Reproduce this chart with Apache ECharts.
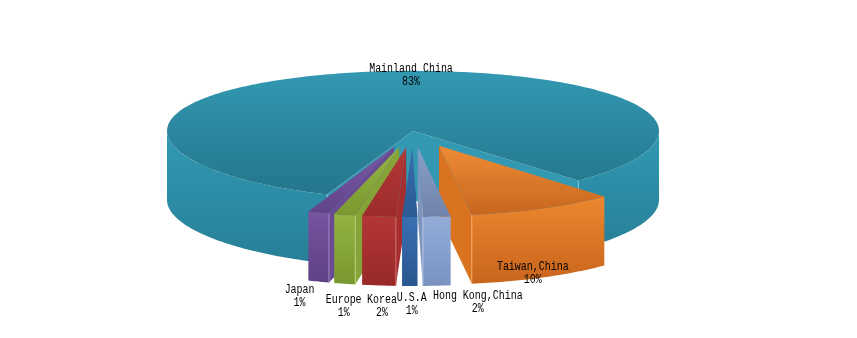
<!DOCTYPE html>
<html><head><meta charset="utf-8">
<script src="https://cdn.jsdelivr.net/npm/echarts@6/dist/echarts.min.js"></script>
<style>html,body{margin:0;padding:0;background:#fff}#c{width:857px;height:338px}</style>
</head><body><div id="c"></div>
<script>
// ---- data ----
const categories = ['Mainland China', 'Taiwan,China', 'Hong Kong,China', 'U.S.A', 'Korea', 'Europe', 'Japan'];
const values = [82.6, 9.6, 1.8, 1.0, 2.2, 1.4, 1.4];
const exploded = [false, true, true, true, true, true, true];

// ---- layout / style ----
const CX = 413, CY = 131, RX = 246, RY = 64, H = 69, PERSP = 0.06, EXPLODE = 0.25, START = 339.6;
const palette = [
  { top: ['#3398b2', '#24768b'], wall: ['#3199b3', '#287f97'], cut: '#3399b2', edge: '#7cc3d6' },
  { top: ['#ee8c36', '#c8661e'], wall: ['#ec872f', '#c9651c'], cut: '#d9731f', edge: '#f3a866' },
  { top: ['#8aa0c8', '#6f83aa'], wall: ['#93acd8', '#7a92c0'], cut: '#7f95be', edge: '#b5c6e6' },
  { top: ['#3a6db0', '#2b5a94'], wall: ['#3a6fb2', '#2a5690'], cut: '#30609c', edge: '#6f98cf' },
  { top: ['#b53838', '#9c2b2b'], wall: ['#b43636', '#982929'], cut: '#a52f2f', edge: '#d36a6a' },
  { top: ['#93b445', '#7a9a30'], wall: ['#92b342', '#789830'], cut: '#84a438', edge: '#b8d27a' },
  { top: ['#7b58a5', '#62448a'], wall: ['#77549f', '#5e4184'], cut: '#6a4a92', edge: '#a487c6' }
];
const labelOffset = [[-2, 4], [-10, -4], [41, 17], [2, 18], [3, 21], [-1, 23], [-19, 15]];

const total = values.reduce((a, b) => a + b, 0);
const cumBefore = values.map((v, i) => values.slice(0, i).reduce((a, b) => a + b, 0));
const rad = d => d * Math.PI / 180;
const sliceAngles = values.map((v, i) => {
  const hi = START - cumBefore[i] / total * 360;
  const lo = hi - v / total * 360;
  return { lo, hi, mid: (lo + hi) / 2 };
});
const order = values.map((v, i) => i).sort((a, b) => {
  if (exploded[a] !== exploded[b]) return exploded[a] ? 1 : -1;
  return Math.cos(rad(sliceAngles[a].mid)) - Math.cos(rad(sliceAngles[b].mid));
});
const rank = [];
order.forEach((idx, r) => { rank[idx] = r; });

function P(X, Y, bottom) {
  const yy = Y * (1 + PERSP * Y);
  return [CX + RX * X, CY + RY * yy + (bottom ? H : 0)];
}
function grad(c) {
  return new echarts.graphic.LinearGradient(0, 0, 0, 1, [{ offset: 0, color: c[0] }, { offset: 1, color: c[1] }]);
}

function renderItem(params, api) {
  const i = params.dataIndex;
  const v = api.value(0);
  const { lo, hi, mid } = sliceAngles[i];
  const ex = exploded[i] ? EXPLODE : 0;
  const ox = ex * Math.sin(rad(mid)), oy = ex * Math.cos(rad(mid));
  const col = palette[i];
  const base = 10 + rank[i] * 5;
  const arc = (a, b, bottom) => {
    const n = Math.max(2, Math.ceil(Math.abs(b - a)));
    const pts = [];
    for (let k = 0; k <= n; k++) {
      const t = rad(a + (b - a) * k / n);
      pts.push(P(ox + Math.sin(t), oy + Math.cos(t), bottom));
    }
    return pts;
  };
  const children = [];
  const edgePt = (t, bottom) => P(ox + Math.sin(rad(t)), oy + Math.cos(rad(t)), bottom);
  const cutFace = t => [P(ox, oy, false), edgePt(t, false), edgePt(t, true), P(ox, oy, true)];
  const addCut = t => {
    children.push({ type: 'polygon', shape: { points: cutFace(t) }, style: { fill: col.cut }, z2: base });
    const a = edgePt(t, false), b = edgePt(t, true);
    children.push({ type: 'line', shape: { x1: a[0], y1: a[1], x2: b[0], y2: b[1] },
      style: { stroke: col.edge, lineWidth: 1 }, z2: base + 1.5 });
  };
  if (Math.sin(rad(hi)) < 0) addCut(hi);
  if (Math.sin(rad(lo)) > 0) addCut(lo);
  const bps = [lo];
  for (let k = -4; k <= 4; k++) { const b = 90 + 180 * k; if (b > lo && b < hi) bps.push(b); }
  bps.push(hi);
  for (let k = 0; k < bps.length - 1; k++) {
    const p = bps[k], q = bps[k + 1];
    if (Math.cos(rad((p + q) / 2)) > 0) {
      const pts = arc(p, q, false).concat(arc(q, p, true));
      children.push({ type: 'polygon', shape: { points: pts }, style: { fill: grad(col.wall) }, z2: base + 1 });
    }
  }
  const topPts = [P(ox, oy, false)].concat(arc(lo, hi, false));
  children.push({ type: 'polygon', shape: { points: topPts }, style: { fill: grad(col.top) }, z2: base + 2 });
  let anchor;
  if (!exploded[i]) anchor = P(0, -1, false);
  else anchor = P(ox + Math.sin(rad(mid)), oy + Math.cos(rad(mid)), true);
  const pct = Math.round(v / total * 100) + '%';
  children.push({
    type: 'text', x: anchor[0] + labelOffset[i][0], y: anchor[1] + labelOffset[i][1], scaleX: 0.83,
    style: { text: categories[i] + '\n' + pct, x: 0, y: 0, align: 'center', verticalAlign: 'middle',
             fontFamily: 'Liberation Mono', fontSize: 12, lineHeight: 13, fill: '#000' },
    z2: 300
  });
  return { type: 'group', children };
}

const chart = echarts.init(document.getElementById('c'), null, { renderer: 'canvas' });
chart.setOption({
  backgroundColor: '#fff',
  animation: false,
  series: [{
    type: 'custom',
    coordinateSystem: 'none',
    renderItem,
    data: values.map((v, i) => ({ name: categories[i], value: [v, i] }))
  }]
});
</script></body></html>
